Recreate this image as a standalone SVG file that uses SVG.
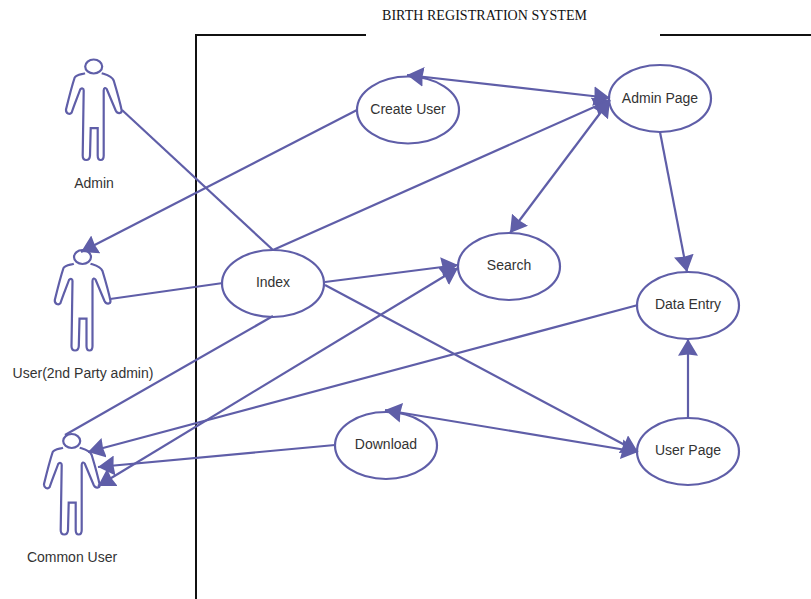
<svg xmlns="http://www.w3.org/2000/svg" width="811" height="599" viewBox="0 0 811 599">
<style>
.u{fill:#fff;stroke:#5f5ea8;stroke-width:2.2}
.a{fill:none;stroke:#5f5ea8;stroke-width:2.2}
.c{fill:none;stroke:#5f5ea8;stroke-width:2.2}
.l{font-family:"Liberation Sans",Arial,sans-serif;font-size:14px;fill:#333;text-anchor:middle}
.t{font-family:"Liberation Serif","Times New Roman",serif;font-size:14px;fill:#111}
.f{fill:none;stroke:#111;stroke-width:2}
</style>
<defs>
<marker id="ah" markerUnits="userSpaceOnUse" markerWidth="20" markerHeight="20" refX="15" refY="9" orient="auto-start-reverse" viewBox="0 0 18 18">
<path d="M0,0L15,9L0,18L1,9Z" fill="#5f5ea8"/>
</marker>
<g id="actor">
<ellipse class="a" cx="0" cy="0" rx="8.500" ry="7"/>
<path class="a" d="M-8.700,6.700C-12,8-17,8-19,11C-22,20-25,32-27.700,43C-28,47-24,48.500-22,46C-19,37-16,30-13.500,23C-12,21-10,22-10,24L-11,89C-11,95-4,95-3.700,89L-3,61.700H4L4,89C4,95 10,95 10,89L10,24C10,21 12,21 13,22.500L22,44C24,48 28,47 28,44C26,34 23,24 20,14C18,9 12,8 8,6.700"/>
</g>
</defs>
<g id="frame"><path class="f" d="M366,35H196V599M660,35H811"/></g>
<text class="t" x="382" y="20" textLength="205">BIRTH REGISTRATION SYSTEM</text>
<g id="admin"><use href="#actor" x="93.700" y="66.500"/><text class="l" x="94" y="188">Admin</text></g>
<g id="user"><use href="#actor" x="82.500" y="257"/><text class="l" x="83" y="378">User(2nd Party admin)</text></g>
<g id="common"><use href="#actor" x="71.700" y="441"/><text class="l" x="72" y="562">Common User</text></g>
<g id="create-user"><ellipse class="u" cx="408" cy="110" rx="51" ry="33.500"/><text class="l" x="408" y="114">Create User</text></g>
<g id="admin-page"><ellipse class="u" cx="660" cy="98.500" rx="51" ry="33.500"/><text class="l" x="660" y="103">Admin Page</text></g>
<g id="search"><ellipse class="u" cx="509" cy="266.500" rx="51" ry="33.500"/><text class="l" x="509" y="270">Search</text></g>
<g id="index"><ellipse class="u" cx="273" cy="283.500" rx="51" ry="33.500"/><text class="l" x="273" y="287">Index</text></g>
<g id="data-entry"><ellipse class="u" cx="688" cy="305.500" rx="51" ry="33.500"/><text class="l" x="688" y="309">Data Entry</text></g>
<g id="user-page"><ellipse class="u" cx="688" cy="451.500" rx="51" ry="33.500"/><text class="l" x="688" y="455">User Page</text></g>
<g id="download"><ellipse class="u" cx="386" cy="445.500" rx="51" ry="33.500"/><text class="l" x="386" y="449">Download</text></g>
<g id="connectors">
<path class="c" d="M122,110L273,250"/>
<path class="c" d="M357,110L81,252" marker-end="url(#ah)"/>
<path class="c" d="M273,250L610,100" marker-end="url(#ah)"/>
<path class="c" d="M110,299L223,283"/>
<path class="c" d="M325,282L458,265" marker-end="url(#ah)"/>
<path class="c" d="M325,285L638,452" marker-end="url(#ah)"/>
<path class="c" d="M273,316L65,435"/>
<path class="c" d="M458,268L98,486" marker-start="url(#ah)" marker-end="url(#ah)"/>
<path class="c" d="M407,75L610,98" marker-start="url(#ah)" marker-end="url(#ah)"/>
<path class="c" d="M610,100L510,233" marker-start="url(#ah)" marker-end="url(#ah)"/>
<path class="c" d="M660,132L687,272" marker-end="url(#ah)"/>
<path class="c" d="M638,305L88,452" marker-end="url(#ah)"/>
<path class="c" d="M688,417L688,339" marker-end="url(#ah)"/>
<path class="c" d="M335,445L98,467" marker-end="url(#ah)"/>
<path class="c" d="M385,410L638,452" marker-start="url(#ah)" marker-end="url(#ah)"/>
</g>
</svg>
